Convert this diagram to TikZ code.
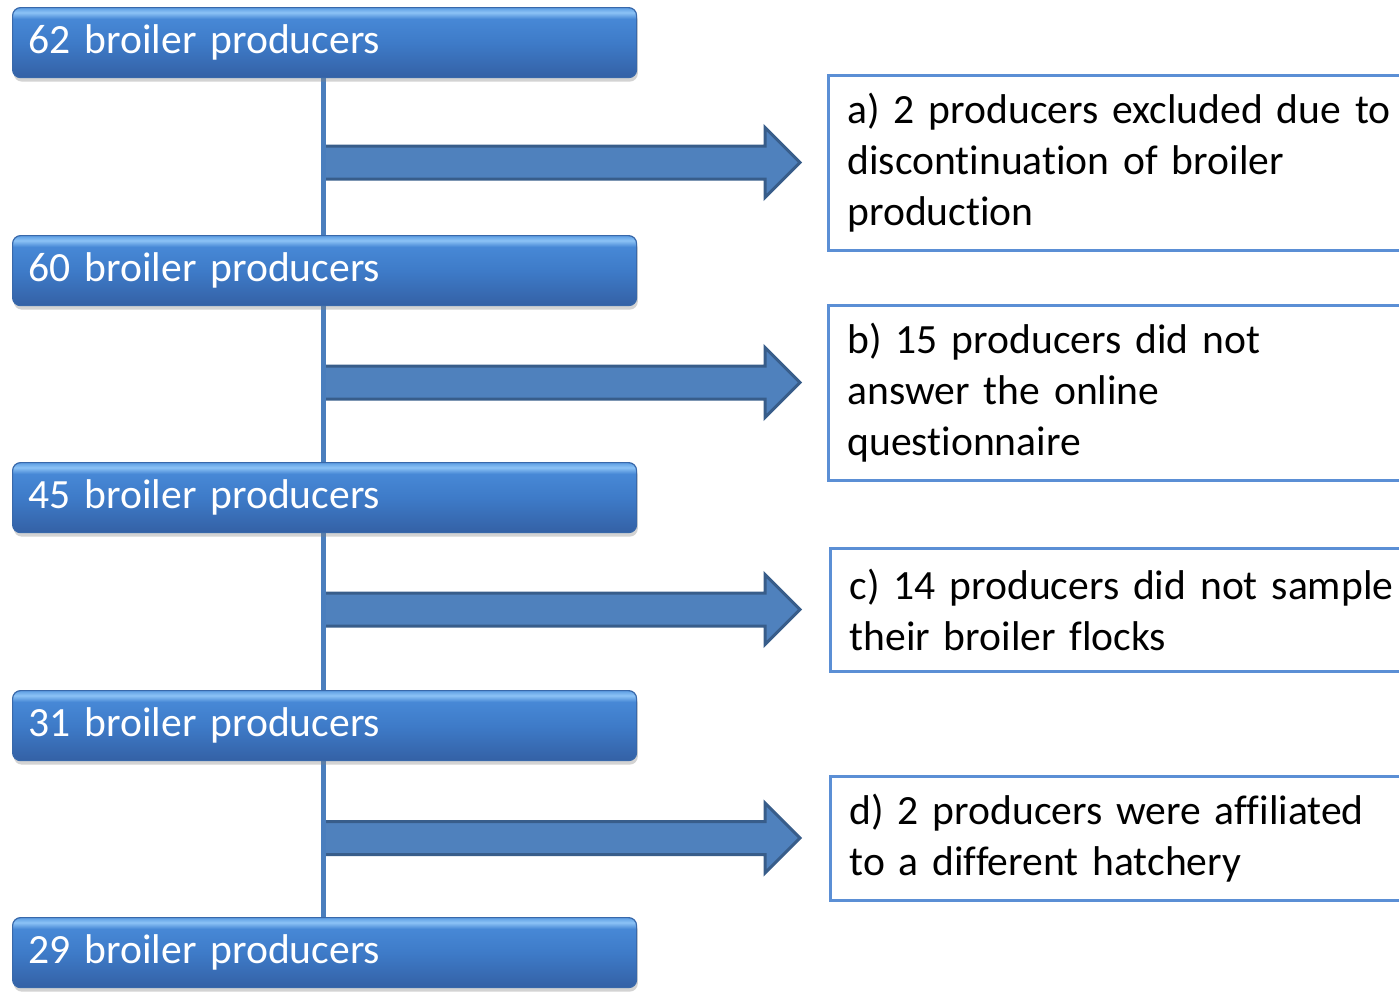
\documentclass[tikz,border=0pt]{standalone}
\usepackage{fontspec}
\setmainfont{Carlito}[Ligatures={NoCommon}, WordSpace={0.85}]
\usetikzlibrary{calc,shadows}

\definecolor{stagebot}{HTML}{3461A5}
\definecolor{stagemid}{HTML}{3E7BC8}
\definecolor{stageup}{HTML}{4788D6}
\definecolor{stagehi}{HTML}{8CC3F6}
\definecolor{stagerim}{HTML}{5D9DE2}
\definecolor{stageedge}{HTML}{3868AA}
\definecolor{spinecol}{HTML}{4A7EBD}
\definecolor{arrowfill}{HTML}{4F81BD}
\definecolor{arrowline}{HTML}{385D8A}
\definecolor{notecol}{HTML}{5B8FD5}

% glossy vertical fill of the stage boxes (path spans 25bp..75bp)
\pgfdeclareverticalshading{stagefill}{100bp}{%
  color(0bp)=(stagebot); color(25bp)=(stagebot); color(50bp)=(stagemid);
  color(67bp)=(stageup); color(71.5bp)=(stagehi); color(75bp)=(stagerim);
  color(100bp)=(stagerim)}

\pgfdeclarelayer{back}
\pgfsetlayers{back,main}

\tikzset{
  x=0.5pt, y=-0.5pt,
  every node/.style={font=\fontsize{20.8}{25.5}\selectfont},
  stage/.style={anchor=north west, rounded corners=4pt, shading=stagefill,
    draw=stageedge, line width=0.6pt, text=white, text width=296pt,
    align=left, inner xsep=8pt, inner ysep=0pt, minimum height=35pt,
    drop shadow={opacity=0.35, shadow xshift=0.6pt, shadow yshift=-2pt}},
  note/.style={anchor=west, draw=notecol, line width=1.5pt, fill=white,
    text=black, text width=280pt, align=left, inner xsep=9.5pt, inner ysep=0pt},
  spine/.style={draw=spinecol, line width=2.5pt},
  fatarrow/.style={fill=arrowfill, draw=arrowline, line width=1.5pt, line join=miter},
}

\begin{document}
\begin{tikzpicture}
\clip (0,0) rectangle (1399,993);

% stage boxes
\node[stage] (b1) at (12,7)   {62 broiler producers};
\node[stage] (b2) at (12,235) {60 broiler producers};
\node[stage] (b3) at (12,462) {45 broiler producers};
\node[stage] (b4) at (12,690) {31 broiler producers};
\node[stage] (b5) at (12,917) {29 broiler producers};

% exclusion notes
\node[note, minimum height=87.5pt] (na) at (827,162.5)
  {a) 2 producers excluded due to\\discontinuation of broiler\\production};
\node[note, minimum height=87.5pt] (nb) at (827,392.5)
  {b) 15 producers did not\\answer the online\\questionnaire};
\node[note, minimum height=61.5pt] (nc) at (829,609.5)
  {c) 14 producers did not sample\\their broiler flocks};
\node[note, minimum height=62pt] (nd) at (829,838)
  {d) 2 producers were affiliated\\to a different hatchery};

% branch points on the spine
\coordinate (sp) at (323,0);
\coordinate (s1) at (sp |- na.west);
\coordinate (s2) at ($(sp |- nb.west)+(0,-10)$);
\coordinate (s3) at (sp |- nc.west);
\coordinate (s4) at (sp |- nd.west);

\begin{pgfonlayer}{back}
  % block arrows from the spine towards the notes
  \foreach \s in {s1,s2,s3,s4}{
    \draw[fatarrow] ($(\s)+(0,-16.5)$) -- ++(442,0) -- ++(0,-18.5)
      -- ++(35,35) -- ++(-35,35) -- ++(0,-18.5) -- ++(-442,0) -- cycle;
  }
  % spine segments between consecutive stages
  \draw[spine] (b1.south -| sp) -- (b2.north -| sp);
  \draw[spine] (b2.south -| sp) -- (b3.north -| sp);
  \draw[spine] (b3.south -| sp) -- (b4.north -| sp);
  \draw[spine] (b4.south -| sp) -- (b5.north -| sp);
\end{pgfonlayer}
\end{tikzpicture}
\end{document}
